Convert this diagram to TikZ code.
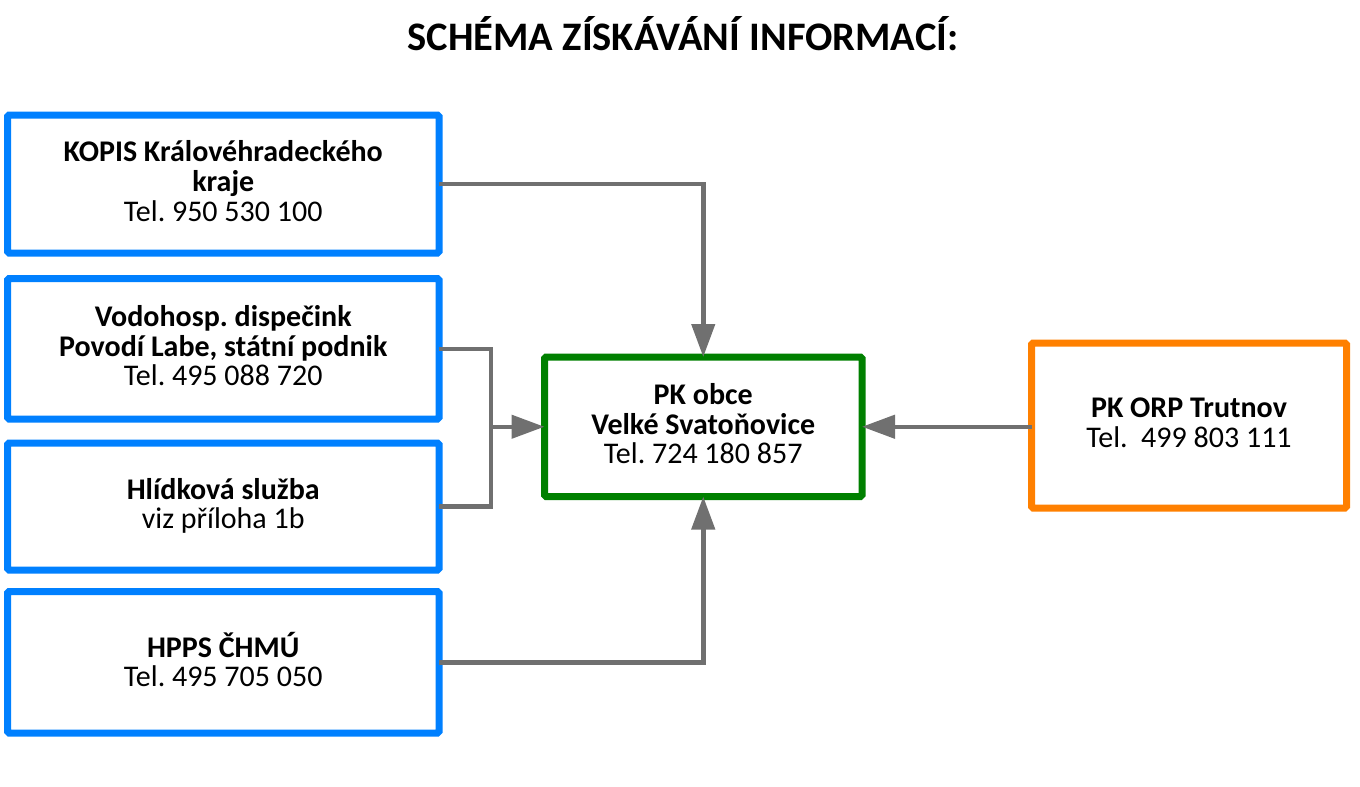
\documentclass[tikz,border=0pt]{standalone}
\usepackage{fontspec}
\setmainfont{Carlito}
\usetikzlibrary{arrows.meta,calc}
\definecolor{boxblue}{HTML}{0080FF}
\definecolor{boxgreen}{HTML}{008000}
\definecolor{boxorange}{HTML}{FF8000}
\definecolor{conngray}{HTML}{707070}
\frenchspacing
\tikzset{
  box/.style={draw, line width=7pt, rounded corners=1.5pt, fill=white, align=center,
    inner sep=0pt, outer sep=0pt, text depth=6pt, font=\fontsize{30}{29.7}\selectfont},
  bluebox/.style={box, draw=boxblue, minimum width=431.5pt},
  conn/.style={draw=conngray, line width=4.5pt},
  arr/.style={conn, -{Triangle[length=33pt,width=23pt]}},
}
\begin{document}
\begin{tikzpicture}[x=1pt,y=-1pt]
\useasboundingbox (0,0) rectangle (1360,787);
\node[font=\fontsize{40.5}{44}\selectfont\bfseries] (title) at (683,34) {SCHÉMA ZÍSKÁVÁNÍ INFORMACÍ:};

\node[bluebox, minimum height=138pt] (kopis) at (223.25,184) {\textbf{KOPIS Královéhradeckého}\\\textbf{kraje}\\Tel. 950 530 100};
\node[bluebox, minimum height=140.5pt] (vodo) at (223.25,348.75) {\textbf{Vodohosp. dispečink}\\\textbf{Povodí Labe, státní podnik}\\Tel. 495 088 720};
\node[bluebox, minimum height=127pt] (hlid) at (223.25,506.5) {\textbf{Hlídková služba}\\viz příloha 1b};
\node[bluebox, minimum height=141.5pt] (hpps) at (223.25,662.25) {\textbf{HPPS ČHMÚ}\\Tel. 495 705 050};

\node[box, draw=boxgreen, minimum width=317.5pt, minimum height=139.5pt] (pk) at (703.25,426.75) {\textbf{PK obce}\\\textbf{Velké Svatoňovice}\\Tel. 724 180 857};
\node[box, draw=boxorange, minimum width=315pt, minimum height=165pt] (orp) at (1189,425.5) {\textbf{PK ORP Trutnov}\\Tel.\ \ 499 803 111};

\draw[arr] (kopis.east) -| (pk.north);
\draw[arr] (hpps.east) -| (pk.south);
\path (vodo.east) ++(52,0) coordinate (jtop);
\coordinate (jmid) at (jtop |- pk.west);
\draw[conn] (vodo.east) -- (jtop) |- (hlid.east);
\draw[arr] (jmid) -- (pk.west);
\draw[arr] (orp.west |- pk.east) -- (pk.east);
\end{tikzpicture}
\end{document}
